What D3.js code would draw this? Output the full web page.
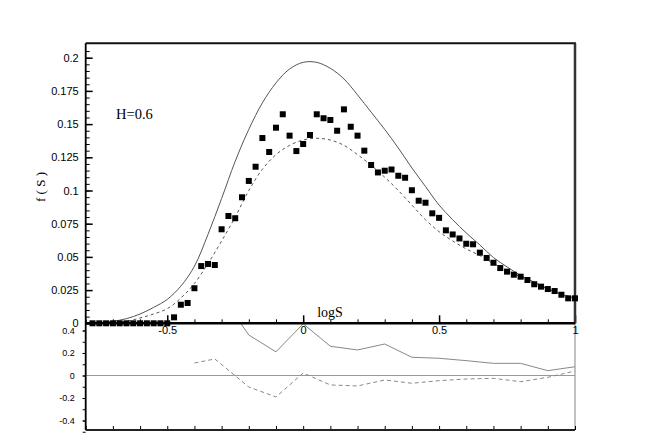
<!DOCTYPE html>
<html><head><meta charset="utf-8">
<script src="https://cdn.jsdelivr.net/npm/d3@7"></script>
<style>html,body{margin:0;padding:0;background:#fff;} svg{display:block;}</style>
</head><body>
<svg id="c" width="654" height="448"></svg>
<script>
// ---- data ----
const sqX = [-0.775,-0.75,-0.725,-0.7,-0.675,-0.65,-0.625,-0.6,-0.575,-0.55,-0.525,-0.5,
  -0.475,-0.45,-0.425,-0.4,-0.375,-0.35,-0.325,-0.3,-0.275,-0.25,-0.225,-0.2,-0.175,-0.15,-0.125,-0.1,-0.075,-0.05,-0.025,
  0,0.025,0.05,0.075,0.1,0.125,0.15,0.175,0.2,0.225,0.25,0.275,0.3,0.325,0.35,0.375,0.4,0.425,0.45,0.475,
  0.5,0.525,0.55,0.575,0.6,0.625,0.65,0.675,0.7,0.725,0.75,0.775,0.8,0.825,0.85,0.875,0.9,0.925,0.95,0.975,1.0];
const sqY = [0,0,0,0,0,0,0,0,0,0,0,0,
  0.0045,0.014,0.0153,0.0264,0.0431,0.0447,0.0439,0.0708,0.0808,0.0791,0.0949,0.1072,0.1179,0.1395,0.129,0.1473,0.1574,0.1413,0.1297,
  0.135,0.1418,0.1574,0.1544,0.1531,0.145,0.1611,0.148,0.1413,0.130,0.1192,0.1136,0.1149,0.1158,0.1111,0.1096,0.1002,0.0923,0.0908,0.0828,
  0.0794,0.070,0.0669,0.0639,0.0599,0.0595,0.0532,0.0492,0.0456,0.0416,0.0389,0.0366,0.0351,0.0326,0.0294,0.0276,0.0258,0.0243,0.0215,0.0188,0.0188];

const curveX = [-0.8,-0.75,-0.7,-0.65,-0.6,-0.55,-0.5,-0.45,-0.4,-0.35,-0.3,-0.25,-0.2,-0.15,-0.1,-0.05,0,0.05,0.1,0.15,0.2,0.25,0.3,0.35,0.4,0.45,0.5,0.55,0.6,0.65,0.7,0.75,0.8,0.85,0.9,0.95,1.0];
const solidY = [0,0.0004,0.0015,0.0035,0.007,0.012,0.018,0.028,0.043,0.067,0.094,0.122,0.146,0.166,0.181,0.1915,0.1965,0.1965,0.192,0.184,0.172,0.159,0.146,0.132,0.117,0.103,0.089,0.078,0.068,0.059,0.0495,0.0425,0.036,0.031,0.026,0.0218,0.019];
const dashY = [0,0.0002,0.0005,0.0015,0.004,0.007,0.011,0.019,0.03,0.045,0.062,0.08,0.1,0.116,0.127,0.134,0.138,0.1393,0.138,0.134,0.127,0.119,0.11,0.1,0.089,0.078,0.069,0.062,0.056,0.051,0.045,0.04,0.035,0.03,0.026,0.022,0.019];

const resSolidX = [-0.4,-0.3,-0.2,-0.1,0,0.1,0.2,0.3,0.4,0.5,0.6,0.7,0.8,0.9,1.0];
const resSolidY = [0.95,0.71,0.36,0.21,0.46,0.26,0.227,0.28,0.162,0.153,0.132,0.108,0.108,0.043,0.078];
const resDashX = [-0.4,-0.325,-0.2,-0.1,0,0.1,0.2,0.3,0.4,0.5,0.6,0.7,0.8,0.9,1.0];
const resDashY = [0.111,0.147,-0.102,-0.191,0.022,-0.084,-0.093,-0.04,-0.069,-0.046,-0.031,-0.025,-0.055,-0.016,0.04];

const xTickMajor = [-0.5,0,0.5,1];
const xTickLabels = ["-0.5","0","0.5","1"];
const yTickMajor = [0,0.025,0.05,0.075,0.1,0.125,0.15,0.175,0.2];
const yTickLabels = ["0","0.025","0.05","0.075","0.1","0.125","0.15","0.175","0.2"];
const rTickLabelVals = [-0.4,-0.2,0,0.2,0.4];
const rTickLabels = ["-0.4","-0.2","0","0.2","0.4"];

// ---- scales ----
const L = 85.7, R = 575, T = 43.3, B0 = 323.3, B1 = 430;
const x = d3.scaleLinear().domain([-0.8, 1]).range([L, R]);
const y = d3.scaleLinear().domain([0, 0.2]).range([B0, 57.7]);
const yr = d3.scaleLinear().domain([-0.4, 0.4]).range([420.5, 330.5]);

const svg = d3.select("#c");
const defs = svg.append("defs");
defs.append("clipPath").attr("id","clipTop").append("rect").attr("x",L).attr("y",T).attr("width",R-L).attr("height",B0-T);
defs.append("clipPath").attr("id","clipBot").append("rect").attr("x",L).attr("y",B0).attr("width",R-L).attr("height",B1-B0);
defs.append("clipPath").attr("id","clipLab").append("rect").attr("x",0).attr("y",B1).attr("width",654).attr("height",10.5);

const sans = "'Liberation Sans', Arial, sans-serif";
const serif = "'Liberation Serif', 'Times New Roman', serif";

// ---- top panel curves ----
const gTop = svg.append("g").attr("clip-path","url(#clipTop)");
const lineTop = d3.line().x(d=>x(d[0])).y(d=>y(d[1])).curve(d3.curveCatmullRom.alpha(0.5));
gTop.append("path").datum(curveX.map((v,i)=>[v,solidY[i]])).attr("d", lineTop)
  .attr("fill","none").attr("stroke","#555").attr("stroke-width",1);
gTop.append("path").datum(curveX.map((v,i)=>[v,dashY[i]])).attr("d", lineTop)
  .attr("fill","none").attr("stroke","#555").attr("stroke-width",1).attr("stroke-dasharray","3,3");

// ---- bottom panel ----
svg.append("line").attr("x1",L).attr("x2",R).attr("y1",yr(0)).attr("y2",yr(0)).attr("stroke","#999").attr("stroke-width",1);
const gBot = svg.append("g").attr("clip-path","url(#clipBot)");
const lineBot = d3.line().x(d=>x(d[0])).y(d=>yr(d[1]));
gBot.append("path").datum(resSolidX.map((v,i)=>[v,resSolidY[i]])).attr("d", lineBot)
  .attr("fill","none").attr("stroke","#888").attr("stroke-width",1);
gBot.append("path").datum(resDashX.map((v,i)=>[v,resDashY[i]])).attr("d", lineBot)
  .attr("fill","none").attr("stroke","#888").attr("stroke-width",1).attr("stroke-dasharray","4,3");
svg.append("line").attr("x1",R).attr("x2",R).attr("y1",B0).attr("y2",B1).attr("stroke","#999").attr("stroke-width",1.2);

// ---- axes ----
function styleAxis(g){ g.select(".domain").remove(); g.selectAll("line").attr("stroke","#000"); }

// top-panel y axis
const yMinor = d3.range(0, 42).map(i=>i*0.005).filter(v=>v<=0.211);
svg.append("g").attr("transform",`translate(${L},0)`)
  .call(d3.axisLeft(y).tickValues(yMinor).tickSize(-4).tickFormat(""))
  .call(styleAxis).selectAll("line").attr("stroke-width",1);
svg.append("g").attr("transform",`translate(${L},0)`)
  .call(d3.axisLeft(y).tickValues(yTickMajor).tickSize(-7).tickPadding(7).tickFormat((d,i)=>yTickLabels[i]))
  .call(styleAxis)
  .call(g=>g.selectAll("line").attr("stroke-width",1.5))
  .call(g=>g.selectAll("text").attr("font-family",sans).attr("font-size",11).attr("fill","#000"));

// top-panel x axis
const xMinor = d3.range(-8, 11).map(i=>i/10);
svg.append("g").attr("transform",`translate(0,${B0})`)
  .call(d3.axisBottom(x).tickValues(xMinor).tickSize(-4).tickFormat(""))
  .call(styleAxis);
svg.append("g").attr("transform",`translate(0,${B0})`)
  .call(d3.axisBottom(x).tickValues(xTickMajor).tickSize(-8).tickPadding(3).tickFormat((d,i)=>xTickLabels[i]))
  .call(styleAxis)
  .call(g=>g.selectAll("line").attr("stroke-width",1.5))
  .call(g=>g.selectAll("text").attr("font-family",sans).attr("font-size",11).attr("fill","#000"));

// bottom-panel y axis
const rMinor = d3.range(-5, 5).map(i=>i/10);
svg.append("g").attr("transform",`translate(${L},0)`)
  .call(d3.axisLeft(yr).tickValues(rMinor).tickSize(3).tickFormat(""))
  .call(styleAxis);
svg.append("g").attr("transform",`translate(${L},0)`)
  .call(d3.axisLeft(yr).tickValues(rTickLabelVals).tickSize(3).tickPadding(8).tickFormat((d,i)=>rTickLabels[i]))
  .call(styleAxis)
  .call(g=>g.selectAll("text").attr("font-family",sans).attr("font-size",9).attr("fill","#000"));

// bottom-panel x axis
svg.append("g").attr("transform",`translate(0,${B1})`)
  .call(d3.axisBottom(x).tickValues(xMinor).tickSize(-4).tickFormat(""))
  .call(styleAxis);
svg.append("g").attr("transform",`translate(0,${B1})`).attr("clip-path","url(#clipLab)")
  .call(d3.axisBottom(x).tickValues(xTickMajor).tickSize(-7).tickPadding(6).tickFormat((d,i)=>xTickLabels[i]))
  .call(styleAxis)
  .call(g=>g.selectAll("text").attr("font-family",sans).attr("font-size",11).attr("fill","#aaa"));

// frame lines
svg.append("line").attr("x1",L).attr("x2",R+1).attr("y1",T).attr("y2",T).attr("stroke","#111").attr("stroke-width",2);
svg.append("line").attr("x1",R).attr("x2",R).attr("y1",T).attr("y2",B0).attr("stroke","#333").attr("stroke-width",2.5);
svg.append("line").attr("x1",L).attr("x2",L).attr("y1",T).attr("y2",B1).attr("stroke","#000").attr("stroke-width",1.8);
svg.append("line").attr("x1",L).attr("x2",R).attr("y1",B0).attr("y2",B0).attr("stroke","#000").attr("stroke-width",2.5);
svg.append("line").attr("x1",L).attr("x2",R).attr("y1",B1).attr("y2",B1).attr("stroke","#222").attr("stroke-width",1.8);

// squares
svg.append("g").selectAll("rect").data(sqX.map((v,i)=>[v,sqY[i]])).join("rect")
  .attr("x",d=>x(d[0])-3).attr("y",d=>y(d[1])-3).attr("width",6).attr("height",6).attr("fill","#000");

// labels
svg.append("text").attr("x",330).attr("y",317).attr("text-anchor","middle")
  .attr("font-family",serif).attr("font-size",14).text("logS");
svg.append("text").attr("x",116).attr("y",119)
  .attr("font-family",serif).attr("font-size",14.5).text("H=0.6");
svg.append("text").attr("transform","translate(45,187) rotate(-90)").attr("text-anchor","middle")
  .attr("font-family",serif).attr("font-size",13).text("f ( S )");
</script>
</body></html>
